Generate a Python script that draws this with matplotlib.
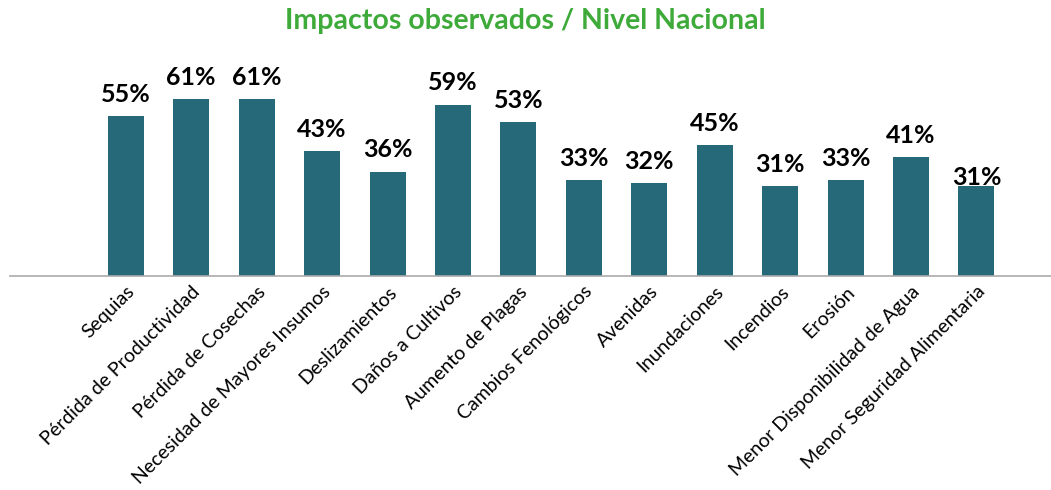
import matplotlib.pyplot as plt

categorias = ["Sequias", "Pérdida de Productividad", "Pérdida de Cosechas",
              "Necesidad de Mayores Insumos", "Deslizamientos", "Daños a Cultivos",
              "Aumento de Plagas", "Cambios Fenológicos", "Avenidas", "Inundaciones",
              "Incendios", "Erosión", "Menor Disponibilidad de Agua",
              "Menor Seguridad Alimentaria"]
valores = [55, 61, 61, 43, 36, 59, 53, 33, 32, 45, 31, 33, 41, 31]

BAR_COLOR = '#266a7a'
TITLE_COLOR = '#3eaa3a'

fig = plt.figure(figsize=(10.51, 4.9), dpi=100)
ax = fig.add_axes([10 / 1051, 1 - 276 / 490, 1 - 10 / 1051, (276 - 73) / 490])

x = list(range(len(categorias)))
ax.bar(x, valores, width=0.55, color=BAR_COLOR)

# value labels above bars (the last one sits lower, touching the bar)
for i, v in enumerate(valores):
    off = 22 if i < len(valores) - 1 else 9
    ax.annotate(f"{v}%", (i, v), textcoords="offset pixels", xytext=(0, off),
                ha='center', va='center', fontsize=18, fontweight='bold',
                family='Lato', color='black')

ax.set_xlim(-1.77, 14.14)
ax.set_ylim(0, 70)
ax.set_yticks([])
ax.set_xticks(x)
ax.set_xticklabels(categorias, rotation=45, ha='right', va='top',
                   rotation_mode='anchor', fontsize=14, family='Lato')
ax.tick_params(axis='x', length=0, pad=5)

for s in ['top', 'right', 'left']:
    ax.spines[s].set_visible(False)
ax.spines['bottom'].set_color('#aaaaaa')
ax.spines['bottom'].set_linewidth(1.2)

fig.text(0.5, 1 - 21 / 490, "Impactos observados / Nivel Nacional",
         ha='center', va='center', fontsize=20.5, fontweight='bold',
         family='Lato', color=TITLE_COLOR)

fig.savefig('out.png', dpi=100)
